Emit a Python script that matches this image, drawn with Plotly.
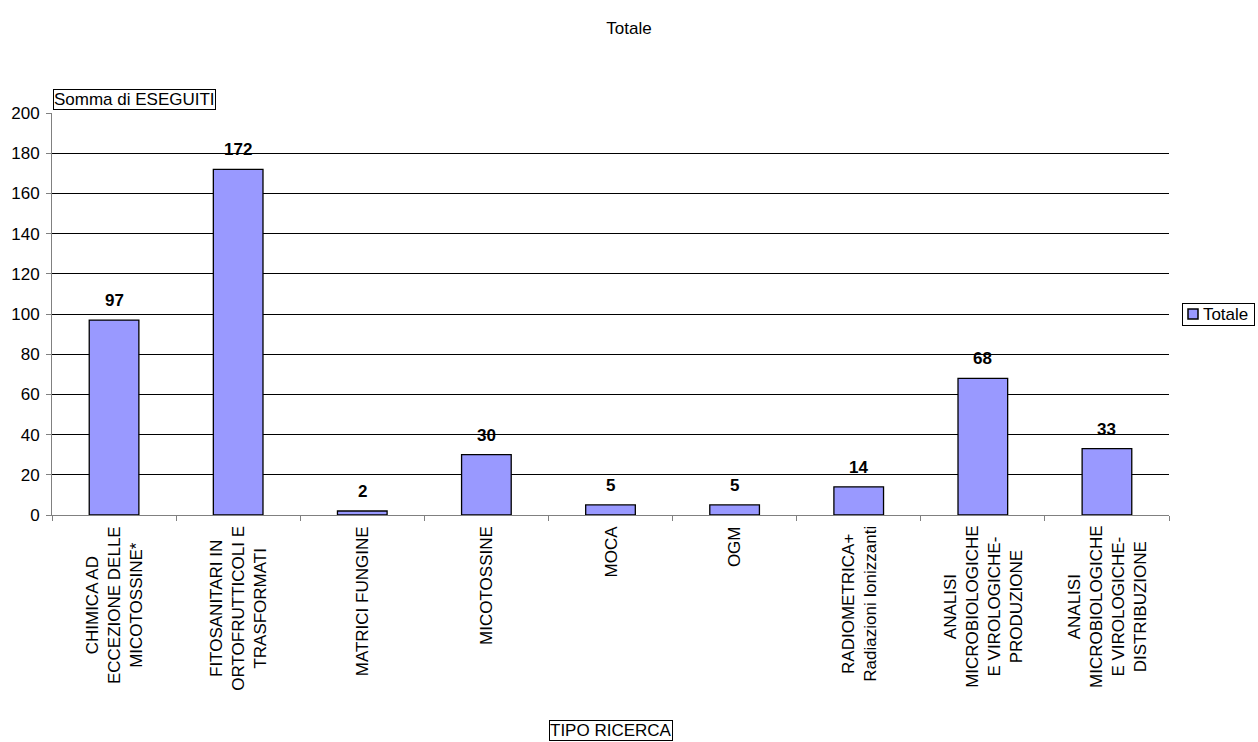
import plotly.graph_objects as go

# Categories (multi-line labels) and counts
categories = [
    "CHIMICA AD<br>ECCEZIONE DELLE<br>MICOTOSSINE*",
    "FITOSANITARI IN<br>ORTOFRUTTICOLI E<br>TRASFORMATI",
    "MATRICI FUNGINE",
    "MICOTOSSINE",
    "MOCA",
    "OGM",
    "RADIOMETRICA+<br>Radiazioni Ionizzanti",
    "ANALISI<br>MICROBIOLOGICHE<br>E VIROLOGICHE-<br>PRODUZIONE",
    "ANALISI<br>MICROBIOLOGICHE<br>E VIROLOGICHE-<br>DISTRIBUZIONE",
]
eseguiti = [97, 172, 2, 30, 5, 5, 14, 68, 33]
y_ticks = [0, 20, 40, 60, 80, 100, 120, 140, 160, 180, 200]

FONT = "Liberation Sans, Arial, sans-serif"
FS = 17
W, H = 1258, 742
ML, MR, MT, MB = 52, 89, 113, 227
PW, PH = W - ML - MR, H - MT - MB
BAR_COLOR = "#9999FF"


def px_x(px):
    return (px - ML) / PW


def px_y(py):
    return (H - MB - py) / PH


fig = go.Figure()
fig.add_trace(go.Bar(
    x=categories,
    y=eseguiti,
    name="Totale",
    marker=dict(color=BAR_COLOR, line=dict(color="black", width=1.3)),
    showlegend=False,
))

# Bold value labels above each bar
for cat, val in zip(categories, eseguiti):
    fig.add_annotation(
        x=cat, y=val, xref="x", yref="y", yshift=8,
        text=f"<b>{val}</b>", showarrow=False,
        xanchor="center", yanchor="bottom",
        font=dict(family=FONT, size=FS, color="black"),
    )

# Rotated, centred category labels below the axis
for cat in categories:
    fig.add_annotation(
        x=cat, xref="x", y=0, yref="paper", yshift=-9,
        text=cat, textangle=-90, showarrow=False,
        xanchor="center", yanchor="top", align="center",
        font=dict(family=FONT, size=FS, color="black"),
    )

# Boxed axis titles
fig.add_annotation(
    x=px_x(53), xref="paper", y=px_y(110), yref="paper",
    text="Somma di ESEGUITI", showarrow=False,
    xanchor="left", yanchor="bottom",
    font=dict(family=FONT, size=FS, color="black"),
    bordercolor="black", borderwidth=1, borderpad=0, bgcolor="white",
)
fig.add_annotation(
    x=px_x(610.5), xref="paper", y=px_y(741), yref="paper",
    text="TIPO RICERCA", showarrow=False,
    xanchor="center", yanchor="bottom",
    font=dict(family=FONT, size=FS, color="black"),
    bordercolor="black", borderwidth=1, borderpad=0, bgcolor="white",
)

# Legend box: swatch + series name
fig.add_annotation(
    x=px_x(1182), xref="paper", y=px_y(314), yref="paper",
    text="&nbsp;&nbsp;&nbsp;&nbsp;Totale&nbsp;", showarrow=False,
    xanchor="left", yanchor="middle",
    font=dict(family=FONT, size=FS, color="black"),
    bordercolor="black", borderwidth=1, borderpad=1,
)
fig.add_shape(
    type="rect", xref="paper", yref="paper", layer="above",
    x0=px_x(1188), x1=px_x(1198), y0=px_y(319), y1=px_y(309),
    fillcolor=BAR_COLOR, line=dict(color="black", width=1.5),
)

fig.update_layout(
    width=W, height=H,
    margin=dict(l=ML, r=MR, t=MT, b=MB, autoexpand=False),
    paper_bgcolor="white", plot_bgcolor="white",
    font=dict(family=FONT, size=FS, color="black"),
    title=dict(text="Totale", x=0.5, xref="container", y=1 - 28 / H, yanchor="middle",
               font=dict(family=FONT, size=FS, color="black")),
    bargap=0.6,
    showlegend=False,
    xaxis=dict(
        type="category",
        showticklabels=False,
        tickson="boundaries",
        ticks="outside", ticklen=5, tickcolor="#808080",
        showline=True, linecolor="#808080", linewidth=1,
        showgrid=False, zeroline=False,
    ),
    yaxis=dict(
        range=[0, 200],
        tickvals=y_ticks,
        ticks="outside", ticklen=5, tickcolor="#808080",
        showline=True, linecolor="#808080", linewidth=1,
        showgrid=True, gridcolor="black", gridwidth=1,
        zeroline=False,
        ticklabelstandoff=3,
        tickfont=dict(family=FONT, size=FS, color="black"),
    ),
)

fig.write_html("out.html")
